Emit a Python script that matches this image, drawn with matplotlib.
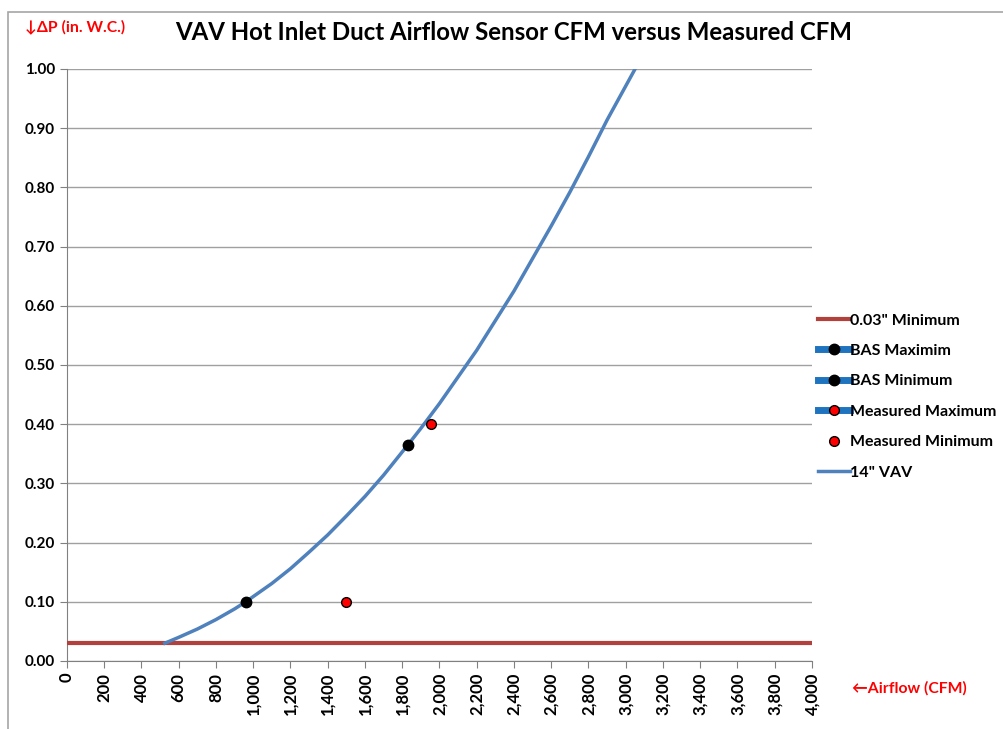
import numpy as np
import matplotlib.pyplot as plt
from matplotlib.patches import Rectangle
from matplotlib.ticker import FuncFormatter, MultipleLocator

plt.rcParams['font.family'] = ['Lato', 'DejaVu Sans']

# 14" VAV curve
vav_cfm = [525, 600, 700, 800, 900, 960, 1100, 1200, 1300, 1400, 1500, 1600, 1700, 1830,
           1900, 2000, 2100, 2200, 2300, 2400, 2500, 2600, 2700, 2800, 2900, 3050]
vav_dp = [0.03, 0.04, 0.054, 0.07, 0.088, 0.10, 0.131, 0.156, 0.184, 0.213, 0.245, 0.278,
          0.314, 0.365, 0.393, 0.435, 0.48, 0.525, 0.575, 0.625, 0.68, 0.735, 0.792, 0.852,
          0.914, 1.0]

min_cfm = [0, 4000]
min_dp = [0.03, 0.03]

bas_max = (1830, 0.365)
bas_min = (960, 0.10)
meas_max = (1955, 0.40)
meas_min = (1500, 0.10)

fig = plt.figure(figsize=(10.04, 7.29), dpi=100)
ax = fig.add_axes([67 / 1004, 68 / 729, 745 / 1004, 592 / 729])

fig.patches.append(Rectangle((8 / 1004, -0.01), 1.0, 1.0 - 12 / 729 + 0.01, transform=fig.transFigure,
                             fill=False, edgecolor='#a6a6a6', linewidth=1.2))

ax.plot(min_cfm, min_dp, color='#b2403d', linewidth=3, label='0.03" Minimum', zorder=3)
ax.plot([bas_max[0]], [bas_max[1]], color='#1f74c0', linewidth=5, marker='o', markersize=7.5,
        markerfacecolor='black', markeredgecolor='black', label='BAS Maximim', zorder=5)
ax.plot([bas_min[0]], [bas_min[1]], color='#1f74c0', linewidth=5, marker='o', markersize=7.5,
        markerfacecolor='black', markeredgecolor='black', label='BAS Minimum', zorder=5)
ax.plot([meas_max[0]], [meas_max[1]], color='#1f74c0', linewidth=5, marker='o', markersize=7,
        markerfacecolor='red', markeredgecolor='black', label='Measured Maximum', zorder=6)
ax.plot([meas_min[0]], [meas_min[1]], linestyle='none', marker='o', markersize=7,
        markerfacecolor='red', markeredgecolor='black', label='Measured Minimum', zorder=6)
ax.plot(vav_cfm, vav_dp, color='#4f81bd', linewidth=2.5, label='14" VAV', zorder=4)

ax.set_xlim(0, 4000)
ax.set_ylim(0, 1.0)
ax.xaxis.set_major_locator(MultipleLocator(200))
ax.yaxis.set_major_locator(MultipleLocator(0.1))
ax.xaxis.set_major_formatter(FuncFormatter(lambda v, p: f'{int(v):,}'))
ax.yaxis.set_major_formatter(FuncFormatter(lambda v, p: f'{v:.2f}'))
ax.grid(axis='y', color='#a0a0a0', linewidth=1)
ax.set_axisbelow(True)
for s in ['top', 'right']:
    ax.spines[s].set_visible(False)
ax.spines['left'].set_color('#808080')
ax.spines['bottom'].set_color('#808080')
ax.tick_params(axis='y', direction='out', length=5, color='#808080', labelsize=11)
ax.tick_params(axis='x', direction='out', length=5, color='#808080', labelsize=12,
               labelrotation=90)
for lbl in ax.get_xticklabels() + ax.get_yticklabels():
    lbl.set_fontweight('bold')

fig.text(514 / 1004, 1 - 33 / 729, 'VAV Hot Inlet Duct Airflow Sensor CFM versus Measured CFM',
         ha='center', va='center', fontsize=17.3, fontweight='bold')
fig.text(25 / 1004, 1 - 27 / 729, '↓ΔP (in. W.C.)', color='red', fontsize=11.3,
         fontweight='bold', ha='left', va='center')
fig.text(852 / 1004, 1 - 688 / 729, '←Airflow (CFM)', color='red', fontsize=11.3,
         fontweight='bold', ha='left', va='center')

leg = ax.legend(loc='upper left', bbox_to_anchor=(1.0, 0.598), frameon=False,
                fontsize=11.5, handlelength=2.0, handletextpad=0.0, labelspacing=1.02,
                borderaxespad=0.0)
for t in leg.get_texts():
    t.set_fontweight('bold')

fig.savefig('out.png', dpi=100)
